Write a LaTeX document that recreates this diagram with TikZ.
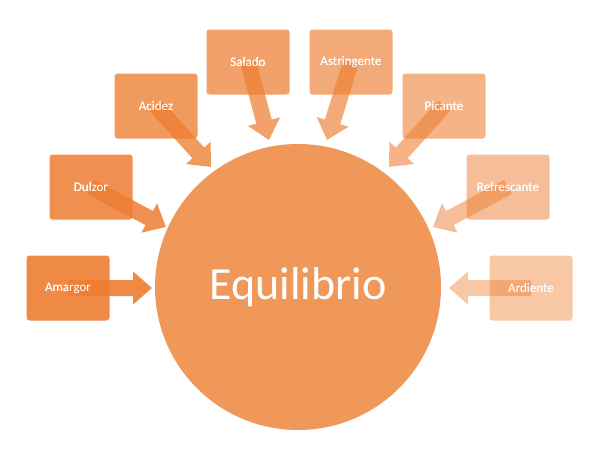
\documentclass[tikz,border=0pt]{standalone}
\usepackage{fontspec}
\setmainfont{Carlito}
\usetikzlibrary{arrows.meta}
\definecolor{org}{HTML}{ED7D31}
\definecolor{circ}{HTML}{F0975A}
\tikzset{
  box/.style={rectangle, rounded corners=3pt, minimum width=83pt, minimum height=65pt, text=white, font=\fontsize{13pt}{15pt}\selectfont},
  blk/.style={line width=16pt, -{Triangle[length=19pt,width=32pt]}}
}
\newcommand{\petal}[5]{% name, x, y, text, opacity, tip
  \node[box, fill=org, fill opacity=#5, text opacity=1] (#1) at (#2,#3) {#4};
}
\newcommand{\barrow}[3]{%
  \begin{scope}[transparency group, opacity=#3]
    \draw[blk, org] (#1.center) -- (#2);
  \end{scope}
}
\begin{document}
\begin{tikzpicture}[x=1pt,y=-1pt]
\useasboundingbox (0,0) rectangle (603,448);
\node[circle, fill=circ, minimum size=286pt, text=white, font=\fontsize{46pt}{50pt}\selectfont] (eq) at (298,287) {Equilibrio};
\petal{am}{68}{288}{Amargor}{0.9}
\petal{du}{91}{187}{Dulzor}{0.85}
\petal{ac}{156}{106}{Acidez}{0.78}
\petal{sa}{248}{62}{Salado}{0.72}
\petal{as}{351}{62}{Astringente}{0.65}
\petal{pi}{444}{106}{Picante}{0.58}
\petal{re}{508}{187}{Refrescante}{0.5}
\petal{ar}{531}{288}{Ardiente}{0.43}
\coordinate (tam) at (152,288);
\coordinate (tdu) at (166,227);
\coordinate (tac) at (211,167);
\coordinate (tsa) at (269,140);
\coordinate (tas) at (327,140);
\coordinate (tpi) at (389,167);
\coordinate (tre) at (433,227);
\coordinate (tar) at (449,288);
\barrow{am}{tam}{0.9}
\barrow{du}{tdu}{0.85}
\barrow{ac}{tac}{0.78}
\barrow{sa}{tsa}{0.72}
\barrow{as}{tas}{0.65}
\barrow{pi}{tpi}{0.58}
\barrow{re}{tre}{0.5}
\barrow{ar}{tar}{0.43}
\node[text=white, font=\fontsize{13pt}{15pt}\selectfont] at (am) {Amargor};
\node[text=white, font=\fontsize{13pt}{15pt}\selectfont] at (du) {Dulzor};
\node[text=white, font=\fontsize{13pt}{15pt}\selectfont] at (ac) {Acidez};
\node[text=white, font=\fontsize{13pt}{15pt}\selectfont] at (sa) {Salado};
\node[text=white, font=\fontsize{13pt}{15pt}\selectfont] at (as) {Astringente};
\node[text=white, font=\fontsize{13pt}{15pt}\selectfont] at (pi) {Picante};
\node[text=white, font=\fontsize{13pt}{15pt}\selectfont] at (re) {Refrescante};
\node[text=white, font=\fontsize{13pt}{15pt}\selectfont] at (ar) {Ardiente};
\end{tikzpicture}
\end{document}
